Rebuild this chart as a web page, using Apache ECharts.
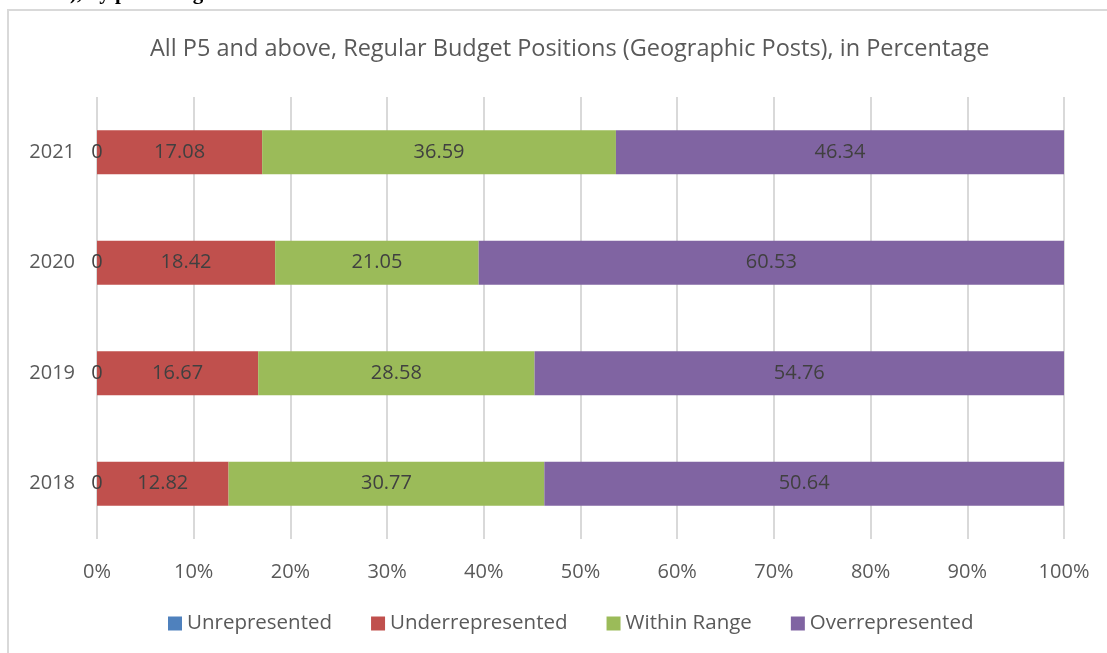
<!DOCTYPE html>
<html>
<head>
<meta charset="utf-8">
<script src="https://cdn.jsdelivr.net/npm/echarts@6/dist/echarts.min.js"></script>
<style>html,body{margin:0;padding:0;background:#fff;}#c{width:1107px;height:653px;}</style>
</head>
<body>
<div id="c"></div>
<script>
var years = ['2018', '2019', '2020', '2021'];
var unrepresented = [0, 0, 0, 0];
var underrepresented = [12.82, 16.67, 18.42, 17.08];
var withinRange = [30.77, 28.58, 21.05, 36.59];
var overrepresented = [50.64, 54.76, 60.53, 46.34];
var xTicks = ['0%', '10%', '20%', '30%', '40%', '50%', '60%', '70%', '80%', '90%', '100%'];

var seriesNames = ['Unrepresented', 'Underrepresented', 'Within Range', 'Overrepresented'];
var seriesRaw = [unrepresented, underrepresented, withinRange, overrepresented];
var colors = ['#4F81BD', '#C0504D', '#9BBB59', '#8064A2'];
var FONT = '"Open Sans"';

var totals = years.map(function (y, i) {
  return seriesRaw.reduce(function (s, arr) { return s + arr[i]; }, 0);
});

var series = seriesRaw.map(function (arr, k) {
  return {
    name: seriesNames[k],
    type: 'bar',
    stack: 'total',
    barWidth: '40%',
    itemStyle: { color: colors[k] },
    label: {
      show: true,
      position: 'inside',
      color: '#404040',
      fontFamily: FONT,
      fontSize: 20,
      formatter: function (p) { return String(arr[p.dataIndex]); }
    },
    data: arr.map(function (v, i) { return v / totals[i] * 100; })
  };
});

var chart = echarts.init(document.getElementById('c'), null, { renderer: 'canvas' });
chart.setOption({
  backgroundColor: '#fff',
  animation: false,
  title: {
    text: 'All P5 and above, Regular Budget Positions (Geographic Posts), in Percentage',
    left: 145,
    top: 32,
    textStyle: { color: '#595959', fontFamily: FONT, fontSize: 23.5, fontWeight: 'normal' }
  },
  legend: {
    bottom: 14,
    left: 163,
    itemWidth: 14,
    itemHeight: 14,
    itemGap: 39,
    icon: 'rect',
    textStyle: { color: '#595959', fontFamily: FONT, fontSize: 20.5 },
    data: seriesNames
  },
  grid: { left: 97, right: 43, top: 97, bottom: 114, containLabel: false },
  xAxis: {
    type: 'value',
    min: 0,
    max: 100,
    interval: 10,
    axisLine: { show: false },
    axisTick: { show: false },
    splitLine: { show: true, lineStyle: { color: '#d9d9d9', width: 2 } },
    axisLabel: {
      color: '#595959', fontFamily: FONT, fontSize: 20, margin: 23,
      formatter: function (v) { return xTicks[Math.round(v / 10)]; }
    }
  },
  yAxis: {
    type: 'category',
    data: years,
    axisLine: { show: false },
    axisTick: { show: false },
    axisLabel: { color: '#595959', fontFamily: FONT, fontSize: 20, margin: 22 }
  },
  graphic: [
    {
      type: 'rect',
      shape: { x: 8, y: 10, width: 1300, height: 900 },
      style: { fill: 'none', stroke: '#d9d9d9', lineWidth: 2 },
      silent: true
    },
    {
      type: 'text',
      left: 70,
      top: -17,
      style: { text: '), by percentage', fill: '#000', font: 'bold 21px "Liberation Serif"' },
      silent: true
    }
  ],
  series: series
});
</script>
</body>
</html>
